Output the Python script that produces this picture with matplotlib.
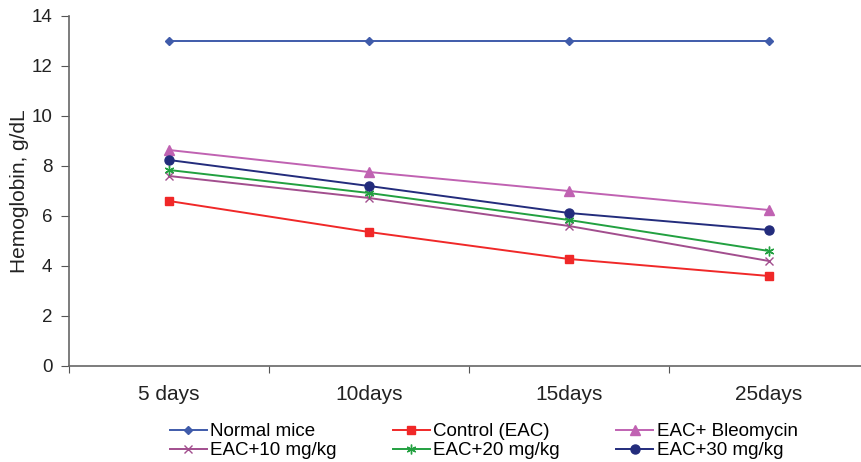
import matplotlib.pyplot as plt
import numpy as np

plt.rcParams['font.family'] = ['Liberation Sans', 'DejaVu Sans']

days = ["5 days", "10days", "15days", "25days"]

normal_mice = [13.0, 13.0, 13.0, 13.0]
control_eac = [6.6, 5.36, 4.28, 3.6]
eac_bleomycin = [8.64, 7.76, 7.0, 6.24]
eac_10 = [7.6, 6.72, 5.6, 4.2]
eac_20 = [7.84, 6.92, 5.84, 4.6]
eac_30 = [8.24, 7.2, 6.12, 5.44]

x = np.arange(len(days))

fig = plt.figure(figsize=(8.61, 4.62), dpi=100)
ax = fig.add_axes([69 / 861, (462 - 366) / 462, 792 / 861, 350 / 462])

lines = {}
lines['n'], = ax.plot(x, normal_mice, color='#3F5BAA', marker='D', ms=4.5, lw=1.4, label='Normal mice')
lines['c'], = ax.plot(x, control_eac, color='#F02828', marker='s', ms=6, lw=1.4, label='Control (EAC)')
lines['b'], = ax.plot(x, eac_bleomycin, color='#C062B2', marker='^', ms=6.5, lw=1.4, label='EAC+ Bleomycin')
lines['10'], = ax.plot(x, eac_10, color='#A24E8E', marker='x', ms=6, mew=1, lw=1.4, label='EAC+10 mg/kg')
lines['20'], = ax.plot(x, eac_20, color='#22A040', marker=(6, 2, 0), ms=7, mew=1, lw=1.4, label='EAC+20 mg/kg')
lines['30'], = ax.plot(x, eac_30, color='#232C7C', marker='o', ms=6.5, lw=1.4, label='EAC+30 mg/kg')

ax.set_yticks(range(0, 15, 2))

# category boundaries get tick marks, labels sit in between
ax.set_xticks(np.arange(-0.5, 4, 1.0))
ax.set_xticklabels([])
ax.set_xticks(x, minor=True)
ax.set_xticklabels(days, minor=True)
ax.set_xlim(-0.5, 3.46)
ax.set_ylim(0, 14)
ax.tick_params(axis='x', which='minor', length=0, pad=14, labelsize=15, colors='#222222')
ax.tick_params(axis='x', which='major', length=5, color='#555555')
ax.tick_params(axis='y', length=6, pad=6, color='#555555', labelsize=13.5, labelcolor='#222222')

for s in ['top', 'right']:
    ax.spines[s].set_visible(False)
for s in ['left', 'bottom']:
    ax.spines[s].set_color('#666666')
    ax.spines[s].set_linewidth(1.2)

ax.set_ylabel('Hemoglobin, g/dL', fontsize=15, color='#222222', labelpad=2)

order = ['n', '10', 'c', '20', 'b', '30']
handles = [lines[k] for k in order]
fig.legend(handles, [h.get_label() for h in handles], ncol=3, frameon=False,
           loc='center left', bbox_to_anchor=(170 / 861, 1 - 441 / 462),
           fontsize=13.5, handlelength=1.95, handletextpad=0.2,
           columnspacing=3.0, labelspacing=0.1, borderpad=0, borderaxespad=0)

fig.savefig('out.png', dpi=100)
